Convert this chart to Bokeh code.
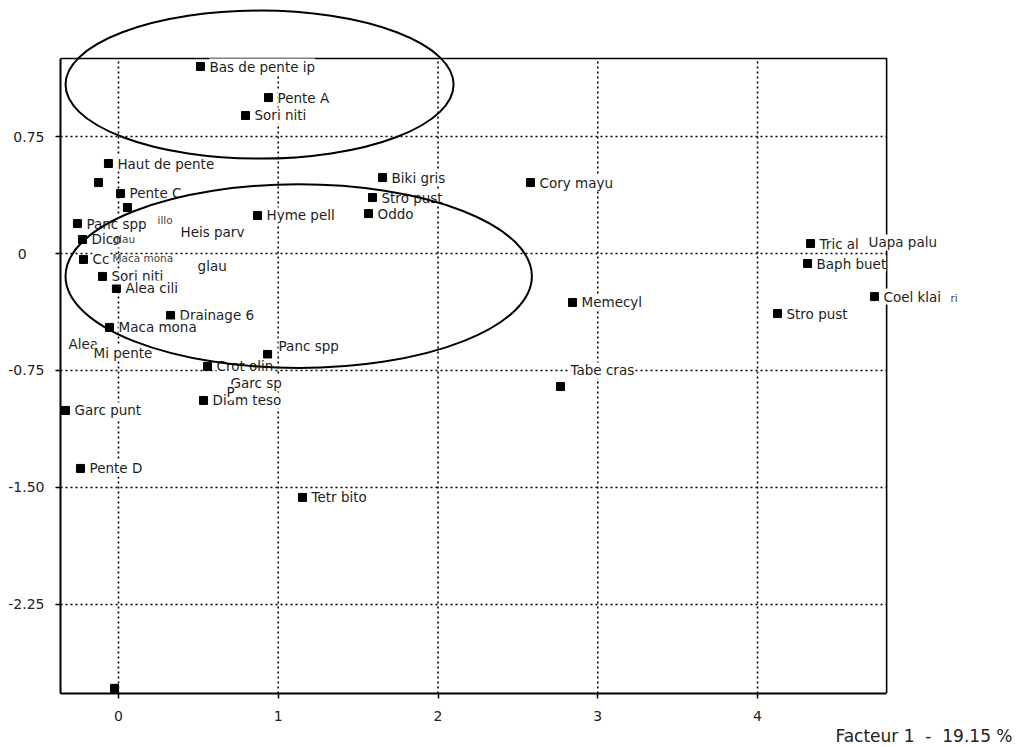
from bokeh.plotting import figure
from bokeh.models import Range1d, FixedTicker, Title
from bokeh.core.properties import value
from bokeh.embed import file_html
from bokeh.resources import INLINE

# ---- data -------------------------------------------------------------
pt_label = ["Bas de pente ip", "Pente A", "Sori niti", "Haut de pente", "", "Pente C", "",
            "Panc spp", "Dico", "Cc", "Sori niti", "Alea cili", "Drainage 6", "Maca mona",
            "Crot olin", "Diam teso", "Garc punt", "Pente D", "Tetr bito", "",
            "Hyme pell", "Biki gris", "Stro pust", "Oddo", "Cory mayu", "Memecyl", "",
            "Tric al", "Baph buet", "Coel klai", "Stro pust", ""]
pt_x = [0.513, 0.939, 0.795, -0.063, -0.125, 0.013, 0.056,
        -0.257, -0.225, -0.219, -0.100, -0.013, 0.326, -0.056,
        0.557, 0.532, -0.332, -0.238, 1.152, -0.025,
        0.870, 1.653, 1.590, 1.565, 2.579, 2.842, 2.767,
        4.332, 4.313, 4.732, 4.125, 0.933]
pt_y = [1.199, 1.000, 0.885, 0.577, 0.455, 0.385, 0.295,
        0.192, 0.090, -0.038, -0.147, -0.224, -0.397, -0.474,
        -0.724, -0.942, -1.006, -1.378, -1.564, -2.788,
        0.244, 0.487, 0.359, 0.256, 0.455, -0.314, -0.853,
        0.064, -0.064, -0.276, -0.385, -0.647]

# labels printed without their own marker (overlapping labels)
txt_label = ["Heis parv", "Alea", "Mi pente", "Panc spp", "Garc sp", "Tabe cras", "Uapa palu", "glau", "P"]
txt_x = [0.388, -0.313, -0.156, 1.002, 0.701, 2.829, 4.695, 0.495, 0.676]
txt_y = [0.141, -0.577, -0.635, -0.590, -0.827, -0.750, 0.071, -0.077, -0.891]

small_label = ["illo", "glau", "Maca mona", "ri"]
small_x = [0.244, -0.038, -0.038, 5.208]
small_y = [0.218, 0.096, -0.026, -0.288]

# encircled groups
ell_x = [0.883, 1.128]
ell_y = [1.083, -0.145]
ell_w = [2.429, 2.919]
ell_h = [0.949, 1.178]

x_ticks = [0, 1, 2, 3, 4]
y_ticks = [-2.25, -1.5, -0.75, 0, 0.75]
y_tick_text = ["-2.25", "-1.50", "-0.75", "0\u2007\u2007", "0.75"]
x_title = "Facteur 1 \u00a0-\u00a0 19.15 %"

# axis box and the visible canvas area (data units)
X_MIN, X_MAX, Y_MIN, Y_MAX = -0.363, 4.808, -2.821, 1.25
X_VIEW, Y_VIEW = 5.646, 1.571

FONT = "DejaVu Sans"

p = figure(frame_width=960, frame_height=685,
           x_range=Range1d(X_MIN, X_VIEW), y_range=Range1d(Y_MIN, Y_VIEW),
           min_border_left=60, min_border_right=0, min_border_top=8, min_border_bottom=0,
           output_backend="svg", toolbar_location=None)
p.outline_line_color = None
p.background_fill_color = "white"
p.grid.visible = False

for ax in (p.xaxis[0], p.yaxis[0]):
    ax.axis_line_color = "black"
    ax.axis_line_width = 2
    ax.major_tick_line_color = "black"
    ax.major_tick_line_width = 1.5
    ax.major_tick_out = 5
    ax.major_tick_in = 0
    ax.minor_tick_line_color = None
    ax.major_label_text_font = FONT
    ax.major_label_text_font_size = "14px"
    ax.major_label_text_color = "#222222"

p.xaxis.ticker = FixedTicker(ticks=x_ticks)
p.yaxis.ticker = FixedTicker(ticks=y_ticks)
p.yaxis.major_label_overrides = {t: s for t, s in zip(y_ticks, y_tick_text)}
p.xaxis.bounds = (X_MIN, X_MAX)
p.yaxis.bounds = (Y_MIN, Y_MAX)
p.xaxis.major_label_standoff = 12
p.yaxis.major_label_standoff = 11

# dotted grid limited to the axis box
nx, ny = len(x_ticks), len(y_ticks)
p.segment(x0=x_ticks, y0=[Y_MIN] * nx, x1=x_ticks, y1=[Y_MAX] * nx,
          line_color="black", line_dash="2 3", line_width=1.6)
p.segment(x0=[X_MIN] * ny, y0=y_ticks, x1=[X_MAX] * ny, y1=y_ticks,
          line_color="black", line_dash="2 3", line_width=1.6)

# top and right sides of the box
p.line(x=[X_MIN, X_MAX, X_MAX], y=[Y_MAX, Y_MAX, Y_MIN], line_color="black", line_width=1.6)

# markers
p.scatter(x=pt_x, y=pt_y, marker="square", size=8, fill_color="black", line_color="black")

# labels
p.text(x=pt_x, y=pt_y, text=pt_label, x_offset=9, text_baseline="middle", text_align="left",
       text_font=value(FONT), text_font_size="13.5px", text_color="#1e1e1e",
       background_fill_color="white")
p.text(x=txt_x, y=txt_y, text=txt_label, text_baseline="middle", text_align="left",
       text_font=value(FONT), text_font_size="13.5px", text_color="#1e1e1e",
       background_fill_color="white")
p.text(x=small_x, y=small_y, text=small_label, text_baseline="middle", text_align="left",
       text_font=value(FONT), text_font_size="10.5px", text_color="#444444")

# ellipses
p.ellipse(x=ell_x, y=ell_y, width=ell_w, height=ell_h, fill_alpha=0,
          line_color="black", line_width=2)

p.add_layout(Title(text=x_title, align="right", text_font=FONT, text_font_size="17px",
                   text_font_style="normal", text_color="#222222", standoff=1, offset=8), "below")

open("out.html", "w").write(file_html(p, INLINE))
